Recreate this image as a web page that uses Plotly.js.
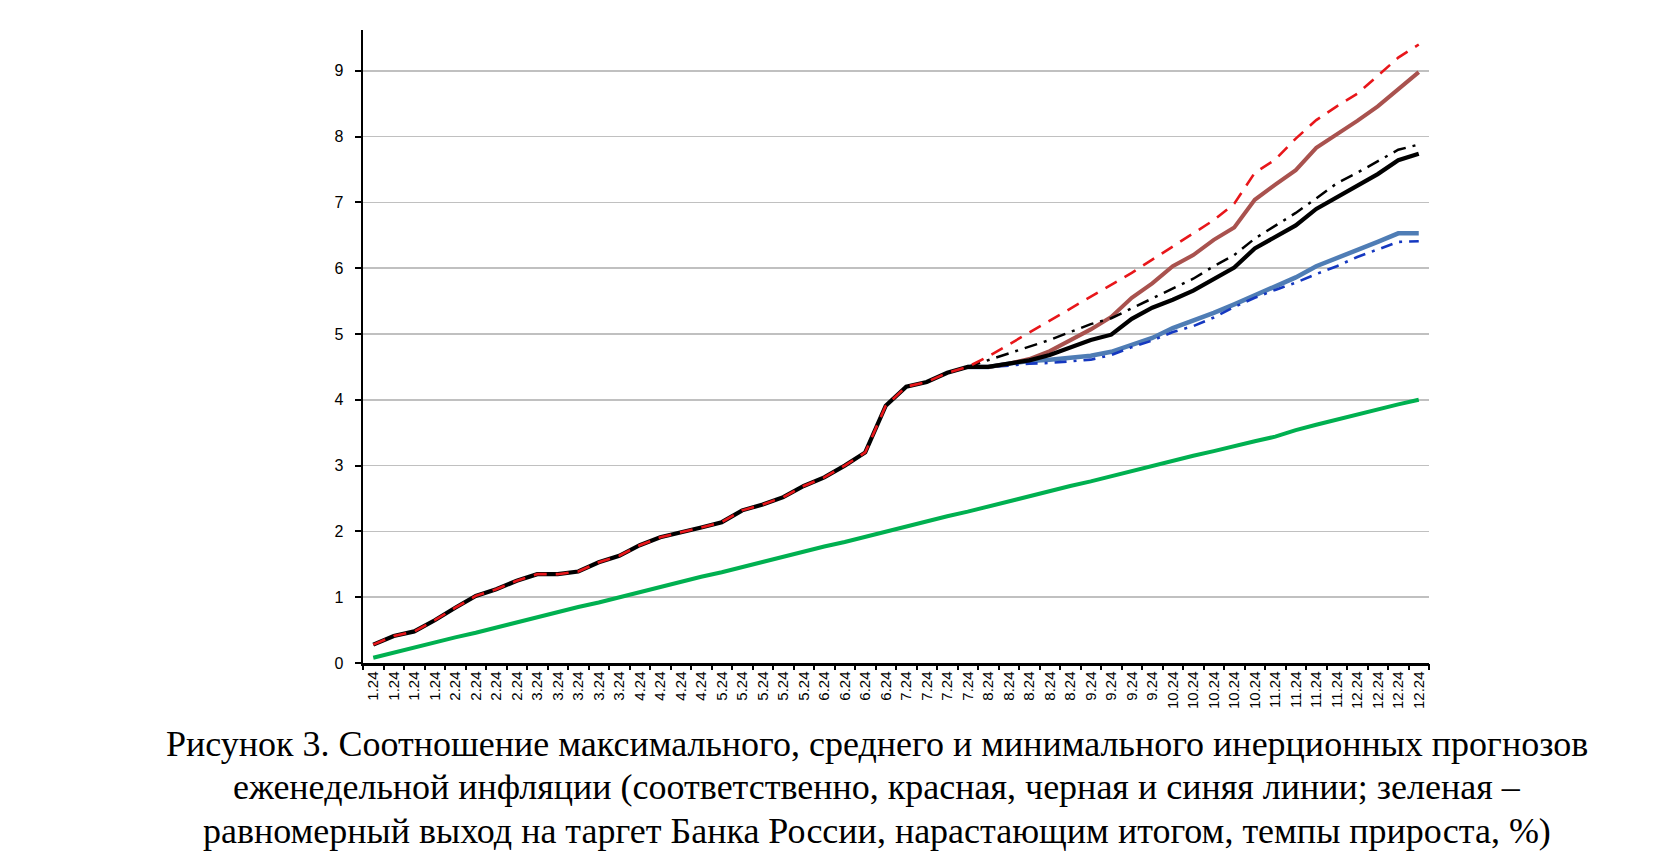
<!DOCTYPE html>
<html>
<head>
<meta charset="utf-8">
<script src="https://cdn.plot.ly/plotly-3.0.1.min.js"></script>
<style>
  body { margin: 0; background: #fff; }
  #chart { width: 1660px; height: 868px; }
</style>
</head>
<body>
<div id="chart"></div>
<script>
// weekly labels, 52 weeks of 2024
var weeks = ['1.24','1.24','1.24','1.24',
             '2.24','2.24','2.24','2.24',
             '3.24','3.24','3.24','3.24','3.24',
             '4.24','4.24','4.24','4.24',
             '5.24','5.24','5.24','5.24','5.24',
             '6.24','6.24','6.24','6.24',
             '7.24','7.24','7.24','7.24',
             '8.24','8.24','8.24','8.24','8.24',
             '9.24','9.24','9.24','9.24',
             '10.24','10.24','10.24','10.24','10.24',
             '11.24','11.24','11.24','11.24',
             '12.24','12.24','12.24','12.24'];

// actual cumulative inflation, weeks 0..29
var fact = [0.28, 0.41, 0.48, 0.65, 0.84, 1.02, 1.12, 1.25, 1.35, 1.35,
            1.39, 1.53, 1.63, 1.79, 1.91, 1.98, 2.06, 2.14, 2.32, 2.41,
            2.52, 2.69, 2.82, 3.00, 3.20, 3.91, 4.20, 4.27, 4.41, 4.50];

// forecasts, weeks 30..51
var maxDash  = [4.66, 4.84, 5.02, 5.20, 5.38, 5.56, 5.74, 5.93, 6.13, 6.33, 6.54,
                6.73, 6.98, 7.45, 7.65, 7.97, 8.25, 8.46, 8.65, 8.92, 9.20, 9.40];
var maxSolid = [4.50, 4.55, 4.62, 4.74, 4.91, 5.07, 5.26, 5.55, 5.77, 6.03, 6.20,
                6.43, 6.62, 7.04, 7.27, 7.49, 7.83, 8.03, 8.24, 8.46, 8.73, 8.98];
var avgSolid = [4.50, 4.55, 4.60, 4.68, 4.80, 4.91, 4.99, 5.23, 5.40, 5.52, 5.66,
                5.84, 6.01, 6.30, 6.48, 6.65, 6.90, 7.08, 7.25, 7.43, 7.64, 7.74];
var avgDash  = [4.60, 4.70, 4.80, 4.91, 5.03, 5.15, 5.24, 5.39, 5.54, 5.69, 5.84,
                6.03, 6.20, 6.45, 6.65, 6.84, 7.06, 7.29, 7.45, 7.63, 7.80, 7.88];
var minSolid = [4.50, 4.55, 4.59, 4.61, 4.64, 4.67, 4.73, 4.84, 4.94, 5.09, 5.20,
                5.32, 5.45, 5.59, 5.73, 5.86, 6.03, 6.15, 6.27, 6.40, 6.53, 6.53];
var minDash  = [4.50, 4.52, 4.55, 4.56, 4.58, 4.61, 4.68, 4.80, 4.90, 5.03, 5.12,
                5.25, 5.41, 5.55, 5.67, 5.78, 5.91, 6.03, 6.17, 6.28, 6.40, 6.41];

// even path to the Bank of Russia target
var target = [0.08, 0.16, 0.23, 0.31, 0.39, 0.46, 0.54, 0.62, 0.69, 0.77,
              0.85, 0.92, 1.00, 1.08, 1.15, 1.23, 1.31, 1.38, 1.46, 1.54,
              1.61, 1.69, 1.77, 1.84, 1.92, 2.00, 2.07, 2.15, 2.23, 2.30,
              2.38, 2.46, 2.53, 2.61, 2.69, 2.76, 2.84, 2.92, 2.99, 3.07,
              3.15, 3.22, 3.30, 3.37, 3.44, 3.54, 3.62, 3.70, 3.77, 3.85,
              3.93, 4.00];

var captionLines = [
  'Рисунок 3. Соотношение максимального, среднего и минимального инерционных прогнозов',
  'еженедельной инфляции (соответственно, красная, черная и синяя линии; зеленая –',
  'равномерный выход на таргет Банка России, нарастающим итогом, темпы прироста, %)'
];

var x = weeks.map(function(w, i){ return i; });

function fromFork(arr){
  // forecast lines start at the last actual week
  var out = [];
  for(var i = 0; i < fact.length - 1; i++) out.push(null);
  out.push(fact[fact.length - 1]);
  return out.concat(arr);
}

function line(y, color, width, dash){
  return {
    x: x,
    y: y,
    mode: 'lines',
    type: 'scatter',
    hoverinfo: 'skip',
    line: { color: color, width: width, dash: dash || 'solid' }
  };
}

var data = [
  line(target, '#00B050', 4),
  line(fromFork(minSolid), '#4F7DB5', 4.5),
  line(fromFork(minDash), '#1538C0', 2.6, '12px,7px,3px,7px'),
  line(fromFork(maxSolid), '#A9524E', 4),
  line(fact.concat(avgSolid), '#000000', 4.2),
  line(fromFork(avgDash), '#000000', 2.5, '13px,7px,3px,7px'),
  line(fact.concat(maxDash), '#E8161A', 2.6, '13px,9px')
];

var annotations = captionLines.map(function(t, k){
  return {
    text: t,
    xref: 'paper', yref: 'paper',
    x: 0.482, y: -0.128 - k * 0.0686,
    xanchor: 'center', yanchor: 'middle',
    showarrow: false,
    font: { family: 'Liberation Serif, Times New Roman, serif', size: 36, color: '#000' }
  };
});

var layout = {
  width: 1660,
  height: 868,
  margin: { l: 363, r: 231, t: 30, b: 205 },
  paper_bgcolor: '#ffffff',
  plot_bgcolor: '#ffffff',
  showlegend: false,
  xaxis: {
    type: 'linear',
    range: [-0.5, 51.5],
    tickmode: 'array',
    tickvals: x,
    ticktext: weeks,
    tickangle: -90,
    showgrid: false,
    zeroline: false,
    showline: true,
    linecolor: '#000',
    linewidth: 2.5,
    ticks: '',
    tickfont: { family: 'Liberation Sans, Arial, sans-serif', size: 15, color: '#000' }
  },
  xaxis2: {
    overlaying: 'x',
    range: [-0.5, 51.5],
    tickmode: 'linear',
    tick0: -0.5,
    dtick: 1,
    ticks: 'outside',
    ticklen: 6,
    tickwidth: 2,
    tickcolor: '#000',
    showticklabels: false,
    showgrid: false,
    zeroline: false,
    anchor: 'y'
  },
  yaxis: {
    range: [0, 9.62],
    tickmode: 'array',
    tickvals: [0,1,2,3,4,5,6,7,8,9],
    showgrid: true,
    gridcolor: '#C0C0C0',
    gridwidth: 1.5,
    zeroline: false,
    showline: true,
    linecolor: '#000',
    linewidth: 2.5,
    ticks: 'outside',
    ticklen: 6,
    tickwidth: 2,
    tickcolor: '#000',
    ticklabelstandoff: 8,
    tickfont: { family: 'Liberation Sans, Arial, sans-serif', size: 16, color: '#000' }
  },
  annotations: annotations
};

// empty trace so the boundary ticks axis gets drawn
data.push({ x: [0], y: [null], xaxis: 'x2', yaxis: 'y', mode: 'lines', hoverinfo: 'skip' });

Plotly.newPlot('chart', data, layout, { staticPlot: true });
</script>
</body>
</html>
